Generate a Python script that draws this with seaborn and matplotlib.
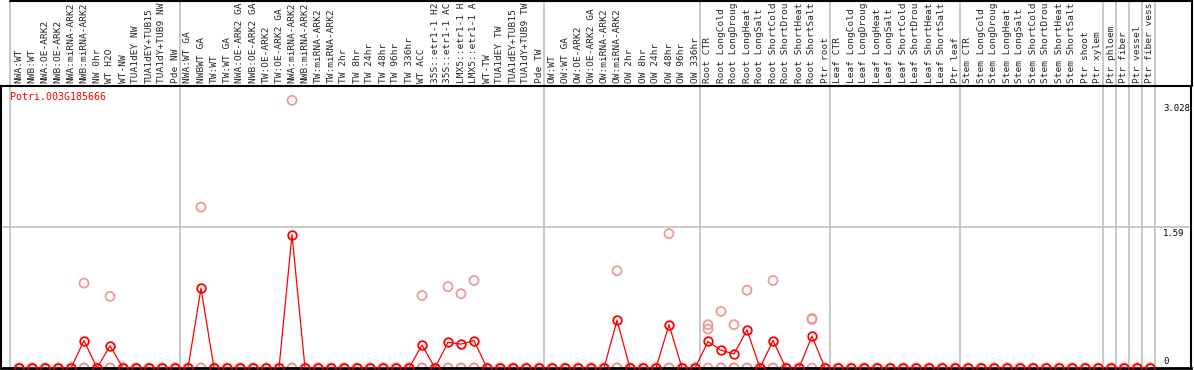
import numpy as np
import pandas as pd
import matplotlib
matplotlib.use("Agg")
import matplotlib.pyplot as plt
from matplotlib.lines import Line2D
import seaborn as sns

sns.set_theme(style="white")
plt.rcParams["font.family"] = ["DejaVu Sans Mono"]

# sample labels (top axis), as shown in the chart
samples = [
    "NWA:WT", "NWB:WT", "NWA:OE-ARK2", "NWB:OE-ARK2", "NWA:miRNA-ARK2", "NWB:miRNA-ARK2",
    "NW 0hr", "WT H2O", "WT-NW", "TUA1dEY NW", "TUA1dEY+TUB15", "TUA1dY+TUB9 NW", "Pde NW",
    "NWA:WT GA", "NWBWT GA", "TW:WT", "TW:WT GA", "NWA:OE-ARK2 GA", "NWB:OE-ARK2 GA",
    "TW:OE-ARK2", "TW:OE-ARK2 GA", "NWA:miRNA-ARK2", "NWB:miRNA-ARK2", "TW:miRNA-ARK2",
    "TW:miRNA-ARK2", "TW 2hr", "TW 8hr", "TW 24hr", "TW 48hr", "TW 96hr", "TW 336hr",
    "WT ACC", "35S::etr1-1 H2", "35S::etr1-1 AC", "LMX5::etr1-1 H", "LMX5::etr1-1 A",
    "WT-TW", "TUA1dEY TW", "TUA1dEY+TUB15", "TUA1dY+TUB9 TW", "Pde TW",
    "OW:WT", "OW:WT GA", "OW:OE-ARK2", "OW:OE-ARK2 GA", "OW:miRNA-ARK2", "OW:miRNA-ARK2",
    "OW 2hr", "OW 8hr", "OW 24hr", "OW 48hr", "OW 96hr", "OW 336hr",
    "Root CTR", "Root LongCold", "Root LongDroug", "Root LongHeat", "Root LongSalt",
    "Root ShortCold", "Root ShortDrou", "Root ShortHeat", "Root ShortSalt", "Ptr root",
    "Leaf CTR", "Leaf LongCold", "Leaf LongDroug", "Leaf LongHeat", "Leaf LongSalt",
    "Leaf ShortCold", "Leaf ShortDrou", "Leaf ShortHeat", "Leaf ShortSalt", "Ptr leaf",
    "Stem CTR", "Stem LongCold", "Stem LongDroug", "Stem LongHeat", "Stem LongSalt",
    "Stem ShortCold", "Stem ShortDrou", "Stem ShortHeat", "Stem ShortSalt", "Ptr shoot",
    "Ptr xylem", "Ptr phloem", "Ptr fiber", "Ptr vessel", "Ptr fiber vess",
]

# number of samples in each group (separated by grey lines)
group_sizes = [13, 28, 12, 10, 10, 11, 1, 1, 1, 1]

# mean expression per sample
mean_expr = [
    0, 0, 0, 0, 0, 0.31, 0, 0.25, 0, 0, 0, 0, 0,
    0, 0.90, 0, 0, 0, 0, 0, 0, 1.51, 0, 0, 0, 0, 0, 0, 0, 0, 0,
    0.26, 0, 0.29, 0.27, 0.31, 0, 0, 0, 0, 0,
    0, 0, 0, 0, 0, 0.54, 0, 0, 0, 0.49, 0, 0,
    0.30, 0.20, 0.16, 0.43, 0, 0.31, 0, 0, 0.36, 0,
    0, 0, 0, 0, 0, 0, 0, 0, 0, 0,
    0, 0, 0, 0, 0, 0, 0, 0, 0, 0, 0,
    0, 0, 0, 0,
]

# individual replicates
rep_a = [
    0, 0, 0, 0, 0, 0.96, 0, 0.81, 0, 0, 0, 0, 0,
    0, 1.82, 0, 0, 0, 0, 0, 0, 3.028, 0, 0, 0, 0, 0, 0, 0, 0, 0,
    0.82, 0, 0.92, 0.84, 0.99, 0, 0, 0, 0, 0,
    0, 0, 0, 0, 0, 1.10, 0, 0, 0, 1.52, 0, 0,
    0.49, 0.64, 0.49, 0.88, 0, 0.99, 0, 0, 0.56, 0,
    0, 0, 0, 0, 0, 0, 0, 0, 0, 0,
    0, 0, 0, 0, 0, 0, 0, 0, 0, 0, 0,
    0, 0, 0, 0,
]
rep_b = [
    0, 0, 0, 0, 0, 0, 0, 0, 0, 0, 0, 0, 0,
    0, 0, 0, 0, 0, 0, 0, 0, 0, 0, 0, 0, 0, 0, 0, 0, 0, 0,
    0, 0, 0, 0, 0, 0, 0, 0, 0, 0,
    0, 0, 0, 0, 0, 0, 0, 0, 0, 0, 0, 0,
    0.44, 0, 0, 0, 0, 0, 0, 0, 0.55, 0,
    0, 0, 0, 0, 0, 0, 0, 0, 0, 0,
    0, 0, 0, 0, 0, 0, 0, 0, 0, 0, 0,
    0, 0, 0, 0,
]

gene = "Potri.003G185666"
ytick_vals = [0, 1.59, 3.028]
ytick_labels = ["0", "1.59", "3.028"]

red = "#ff0000"
pink = "#f09898"
grey = "#c0c0c0"

n = len(samples)
pos = np.arange(n)
reps = pd.DataFrame({
    "pos": np.concatenate([pos, pos, pos]),
    "value": np.concatenate([rep_a, rep_b, np.zeros(n)]),
})
means = pd.DataFrame({"pos": pos, "value": mean_expr})

W, H = 1194, 370
fig = plt.figure(figsize=(W / 100, H / 100), dpi=100)
ax = fig.add_axes([1 / W, 2 / H, 1190 / W, 282 / H])

# replicates (light)
sns.scatterplot(data=reps, x="pos", y="value", ax=ax, marker="o", s=42,
                facecolor="none", edgecolor=pink, linewidth=1.3, zorder=2, legend=False)
# mean line
sns.lineplot(data=means, x="pos", y="value", ax=ax, color=red, linewidth=0.9,
             marker="o", markersize=6.2, markerfacecolor="none", markeredgecolor=red,
             markeredgewidth=1.3, zorder=3, legend=False)

ax.set_xlim(-18 / 13, 1172 / 13)
ax.set_ylim(0, 3.19)

# top labels
ax.set_xticks(pos)
ax.set_xticklabels(samples, rotation=90, fontsize=6.8)
ax.tick_params(axis="x", top=True, bottom=False, labeltop=True, labelbottom=False,
               length=0, pad=2)
ax.set_yticks([])
ax.set_xlabel("")
ax.set_ylabel("")

# group separators
bounds = np.cumsum(group_sizes) - 0.5
ext = 1 + 86 / 282
ax.axvline(-9 / 13, ymin=0, ymax=ext, color=grey, lw=1.2, clip_on=False, zorder=1)
for b in bounds:
    ax.axvline(b - 0.1, ymin=0, ymax=ext, color=grey, lw=1.2, clip_on=False, zorder=1)

ax.axhline(ytick_vals[1], color=grey, lw=1.2, zorder=1)

# y value labels, inside at the right
offsets = [7, -6, -8]
for v, lab, off in zip(ytick_vals, ytick_labels, offsets):
    ax.annotate(lab, xy=(1, v), xycoords=("axes fraction", "data"),
                xytext=(-28, off), textcoords="offset pixels",
                ha="left", va="center", fontsize=6.5, color="black")

fig.text(10 / W, 1 - 97 / H, gene, color=red, fontsize=7.2, ha="left", va="center")

for sp in ax.spines.values():
    sp.set_color("black")
    sp.set_linewidth(1.5)
ax.spines["bottom"].set_linewidth(2)

# frame around label area
fig.add_artist(Line2D([10 / W, 1192 / W], [1 - 0.5 / H, 1 - 0.5 / H], color="black", lw=1.5))
fig.add_artist(Line2D([1191.5 / W, 1191.5 / W], [1 - 86 / H, 1], color="black", lw=1.5))

fig.savefig("out.png", dpi=100)
